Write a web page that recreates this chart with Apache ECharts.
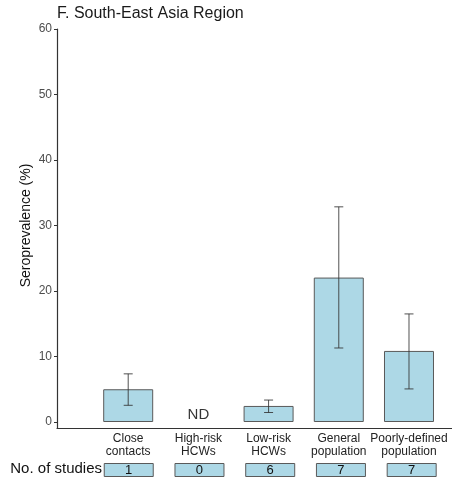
<!DOCTYPE html>
<html>
<head>
<meta charset="utf-8">
<script src="https://cdn.jsdelivr.net/npm/echarts@6/dist/echarts.min.js"></script>
<style>html,body{margin:0;padding:0;background:#fff}#c{width:452px;height:481px}</style>
</head>
<body>
<div id="c"></div>
<script>
const categories = ['Close\ncontacts', 'High-risk\nHCWs', 'Low-risk\nHCWs', 'General\npopulation', 'Poorly-defined\npopulation'];
const seroprevalence = [5.0, null, 2.45, 22.05, 10.85];
const ciLower = [2.55, null, 1.45, 11.3, 5.05];
const ciUpper = [7.35, null, 3.35, 32.85, 16.5];
const nStudies = [1, 0, 6, 7, 7];
const yTicks = [0, 10, 20, 30, 40, 50, 60];

const FONT = 'Liberation Sans, Arial, sans-serif';
const FILL = '#ADD8E6';
const EDGE = '#5a5a5a';
const XMAX = 5.57;

const barData = [], errData = [], ndData = [], studyData = [];
categories.forEach((c, i) => {
  if (seroprevalence[i] == null) { ndData.push([i + 1, 0]); }
  else {
    barData.push([i + 1, seroprevalence[i]]);
    errData.push([i + 1, ciLower[i], ciUpper[i]]);
  }
  studyData.push([i + 1, 1]);
});

const chart = echarts.init(document.getElementById('c'), null, {renderer: 'canvas'});
chart.setOption({
  animation: false,
  textStyle: {fontFamily: FONT},
  title: {
    text: 'F. South-East Asia Region', left: 57, top: 6, padding: 0,
    textStyle: {fontSize: 16, fontWeight: 'normal', color: '#1a1a1a', fontFamily: FONT}
  },
  graphic: [{
    type: 'text', right: 452 - 102, top: 461,
    style: {text: 'No. of studies', fontSize: 15, fill: '#111', fontFamily: FONT}
  }],
  grid: [
    {left: 58, right: 0, top: 29, height: 393},
    {left: 57, right: 0, top: 29, bottom: 53},
    {left: 58, right: 0, top: 463, height: 14}
  ],
  xAxis: [
    {gridIndex: 0, type: 'value', min: 0, max: XMAX, interval: 1,
      axisLine: {show: false}, axisTick: {show: false}, splitLine: {show: false},
      axisLabel: {
        show: true, margin: 10, fontSize: 12, lineHeight: 13, color: '#222', fontFamily: FONT,
        showMinLabel: true, showMaxLabel: true,
        formatter: v => (Number.isInteger(v) && v >= 1 && v <= categories.length) ? categories[v - 1] : ''
      }},
    {gridIndex: 1, type: 'value', min: 0, max: 1,
      axisLine: {show: true, onZero: false, lineStyle: {color: '#333', width: 1.2}},
      axisTick: {show: false}, axisLabel: {show: false}, splitLine: {show: false}},
    {gridIndex: 2, type: 'value', min: 0, max: XMAX, show: false, splitLine: {show: false}}
  ],
  yAxis: [
    {gridIndex: 0, type: 'value', min: 0, max: 60, interval: 10,
      name: 'Seroprevalence (%)', nameLocation: 'middle', nameGap: 25,
      nameMoveOverlap: false,
      nameTextStyle: {fontSize: 14, color: '#111', fontFamily: FONT},
      axisLine: {show: false},
      axisTick: {show: true, length: 4, lineStyle: {color: '#333'}},
      axisLabel: {margin: 6, fontSize: 12, color: '#4d4d4d', fontFamily: FONT,
        formatter: v => yTicks.includes(v) ? String(v) : ''},
      splitLine: {show: false}},
    {gridIndex: 1, type: 'value', min: 0, max: 1,
      axisLine: {show: true, onZero: false, lineStyle: {color: '#333', width: 1.2}},
      axisTick: {show: false}, axisLabel: {show: false}, splitLine: {show: false}},
    {gridIndex: 2, type: 'value', min: 0, max: 1, show: false, splitLine: {show: false}}
  ],
  series: [
    {type: 'bar', xAxisIndex: 0, yAxisIndex: 0, data: barData, barWidth: 50,
      itemStyle: {color: FILL, borderColor: EDGE, borderWidth: 1}},
    {type: 'custom', xAxisIndex: 0, yAxisIndex: 0, data: errData, z: 5,
      renderItem: function (params, api) {
        const x = api.value(0);
        const lo = api.coord([x, api.value(1)]);
        const hi = api.coord([x, api.value(2)]);
        const h = 4.5;
        const st = {stroke: '#333', lineWidth: 1, opacity: 0.85};
        return {type: 'group', children: [
          {type: 'line', shape: {x1: hi[0], y1: hi[1], x2: lo[0], y2: lo[1]}, style: st},
          {type: 'line', shape: {x1: hi[0] - h, y1: hi[1], x2: hi[0] + h, y2: hi[1]}, style: st},
          {type: 'line', shape: {x1: lo[0] - h, y1: lo[1], x2: lo[0] + h, y2: lo[1]}, style: st}
        ]};
      }},
    {type: 'scatter', xAxisIndex: 0, yAxisIndex: 0, data: ndData, symbolSize: 1,
      itemStyle: {color: 'rgba(0,0,0,0)'},
      label: {show: true, position: 'inside', offset: [0, -7], formatter: 'ND',
        fontSize: 15, color: '#000', fontFamily: FONT}},
    {type: 'bar', xAxisIndex: 2, yAxisIndex: 2, data: studyData, barWidth: 50,
      itemStyle: {color: FILL, borderColor: EDGE, borderWidth: 1},
      label: {show: true, position: 'inside', fontSize: 13, color: '#111', fontFamily: FONT,
        formatter: p => String(nStudies[p.dataIndex])}}
  ]
});
</script>
</body>
</html>
